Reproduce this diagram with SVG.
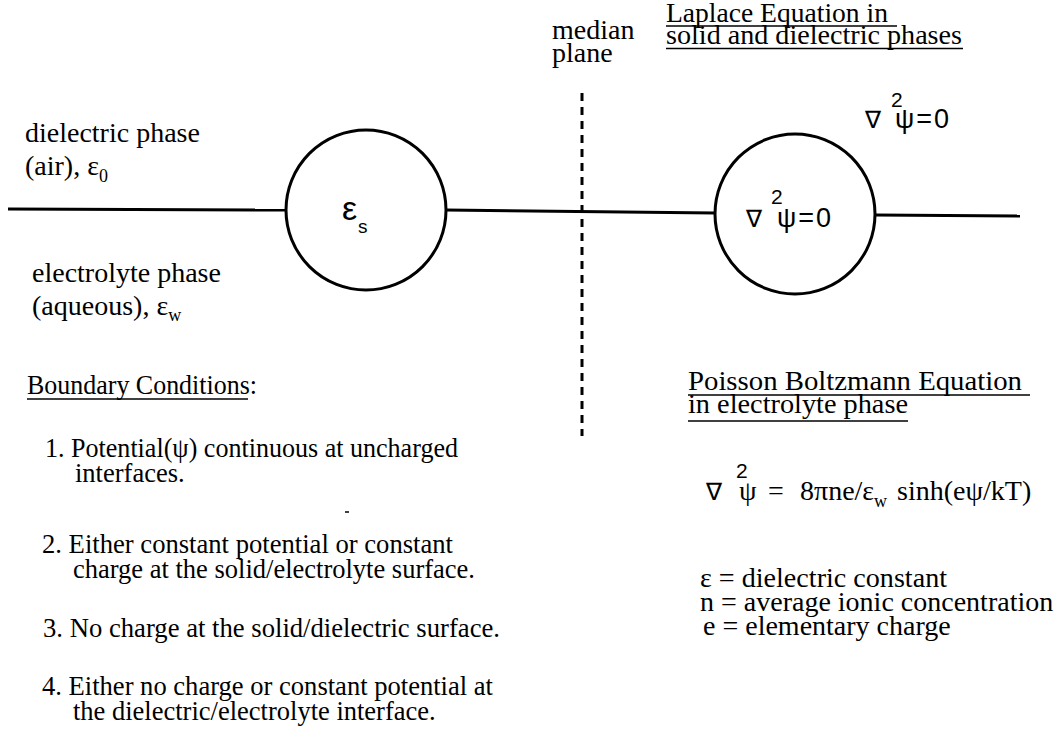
<svg xmlns="http://www.w3.org/2000/svg" width="1060" height="730" viewBox="0 0 1060 730">
<style>
.t{font-family:"Liberation Serif","Times New Roman",serif;font-size:28px;fill:#000}
.b{font-size:26.5px}
.s{font-family:"Liberation Sans",Arial,sans-serif;fill:#000}
.eq{font-size:27px;letter-spacing:2px}
.sub{font-size:18px}
.ln{stroke:#000;stroke-width:3;fill:none}
.ul{stroke:#000;stroke-width:1.6}
</style>
<rect width="1060" height="730" fill="#fff"/>
<g id="connectors">
<line class="ln" x1="8" y1="209" x2="286" y2="210"/>
<line class="ln" x1="446" y1="210" x2="715" y2="213"/>
<line class="ln" x1="875" y1="215" x2="1020" y2="216"/>
<line x1="582" y1="93" x2="582" y2="436" stroke="#000" stroke-width="3" stroke-dasharray="8,6"/>
</g>
<g id="solid-particle">
<circle class="ln" cx="366" cy="210" r="80"/>
<text class="s" x="342" y="220" font-size="34">ε</text>
<text class="s" x="358" y="233" font-size="19">s</text>
</g>
<g id="solid-laplace">
<circle class="ln" cx="795" cy="214" r="80"/>
<text class="s" x="746" y="227" font-size="24">∇</text>
<text class="s" x="771" y="204" font-size="21">2</text>
<text class="s eq" x="777" y="227">ψ=0</text>
</g>
<g id="dielectric-label">
<text class="t" x="25" y="142">dielectric phase</text>
<text class="t" x="25" y="175">(air), ε<tspan class="sub" dy="7">0</tspan></text>
</g>
<g id="electrolyte-label">
<text class="t" x="32" y="282">electrolyte phase</text>
<text class="t" x="32" y="315">(aqueous), ε<tspan class="sub" dy="6">w</tspan></text>
</g>
<g id="median-plane">
<text class="t" x="552" y="39" font-size="25">median</text>
<text class="t" x="552" y="62" font-size="25">plane</text>
</g>
<g id="laplace-title">
<text class="t" x="666" y="22" textLength="222" lengthAdjust="spacingAndGlyphs">Laplace Equation in</text>
<text class="t" x="666" y="44" textLength="296" lengthAdjust="spacingAndGlyphs">solid and dielectric phases</text>
<line class="ul" x1="666" y1="26" x2="897" y2="26"/>
<line class="ul" x1="666" y1="48.5" x2="963" y2="48.5"/>
<text class="s" x="865" y="128" font-size="24">∇</text>
<text class="s" x="891" y="107" font-size="21">2</text>
<text class="s eq" x="895" y="128">ψ=0</text>
</g>
<g id="boundary-conditions">
<text class="t b" x="27" y="394" textLength="230" lengthAdjust="spacingAndGlyphs">Boundary Conditions:</text>
<line class="ul" x1="27" y1="399" x2="248" y2="399"/>
<text class="t b" x="45" y="457" textLength="413" lengthAdjust="spacingAndGlyphs">1. Potential(ψ) continuous at uncharged</text>
<text class="t b" x="75" y="482">interfaces.</text>
<text class="t b" x="42" y="553" textLength="411" lengthAdjust="spacingAndGlyphs">2. Either constant potential or constant</text>
<text class="t b" x="73" y="578" textLength="402" lengthAdjust="spacingAndGlyphs">charge at the solid/electrolyte surface.</text>
<text class="t b" x="43" y="637" textLength="457" lengthAdjust="spacingAndGlyphs">3. No charge at the solid/dielectric surface.</text>
<text class="t b" x="42" y="695" textLength="451" lengthAdjust="spacingAndGlyphs">4. Either no charge or constant potential at</text>
<text class="t b" x="73" y="720">the dielectric/electrolyte interface.</text>
<line x1="345" y1="512" x2="349" y2="512" stroke="#000" stroke-width="1.5"/>
</g>
<g id="poisson-boltzmann">
<text class="t" x="688" y="390" textLength="334" lengthAdjust="spacingAndGlyphs">Poisson Boltzmann Equation</text>
<text class="t" x="688" y="413" textLength="220" lengthAdjust="spacingAndGlyphs">in electrolyte phase</text>
<line class="ul" x1="688" y1="395" x2="1030" y2="395"/>
<line class="ul" x1="688" y1="421" x2="908" y2="421"/>
<text class="s" x="706" y="500" font-size="24">∇</text>
<text class="s" x="736" y="478" font-size="21">2</text>
<text class="t" x="739" y="500">ψ</text>
<text class="t" x="768" y="500">=</text>
<text class="t" x="800" y="500">8πne/ε<tspan class="sub" dy="7">w</tspan><tspan dy="-7" dx="3"> sinh(eψ/kT)</tspan></text>
</g>
<g id="legend">
<text class="t" x="700" y="587" textLength="247" lengthAdjust="spacingAndGlyphs">ε = dielectric constant</text>
<text class="t" x="700" y="611">n = average ionic concentration</text>
<text class="t" x="703" y="635">e = elementary charge</text>
</g>
</svg>
